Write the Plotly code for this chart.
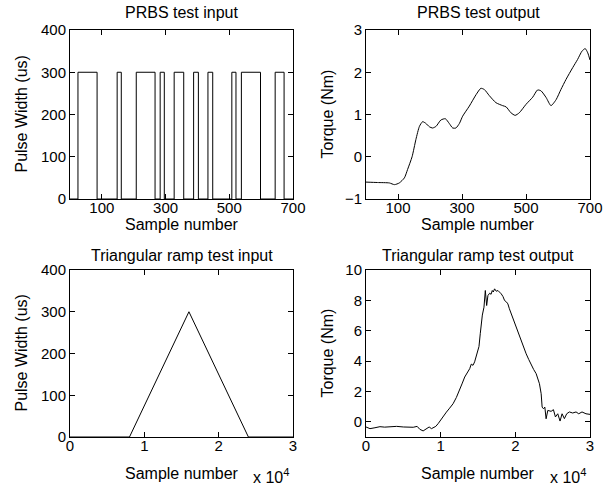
import plotly.graph_objects as go

# ---------------- data ----------------
# PRBS test input: rising / falling sample indices of the 300 us pulses
prbs_rise = [25, 148, 208, 283, 327, 388, 433, 508, 538, 644]
prbs_fall = [85, 161, 267, 296, 357, 403, 448, 521, 598, 672]
prbs_high = 300
prbs_len = 700

# PRBS test output (torque, Nm)
prbs_out_x = [0, 36, 73, 89, 104, 120, 130, 144, 156, 167, 177, 187, 198, 208, 219,
              234, 248, 260, 271, 281, 292, 302, 323, 344, 359, 370, 385, 406, 427,
              438, 453, 466, 479, 500, 521, 536, 547, 563, 578, 594, 609, 625, 646,
              661, 675, 685, 693, 700]
prbs_out_y = [-0.60, -0.61, -0.62, -0.66, -0.62, -0.50, -0.30, 0.00, 0.41, 0.72, 0.83,
              0.79, 0.71, 0.68, 0.72, 0.87, 0.90, 0.79, 0.68, 0.68, 0.79, 0.96, 1.20,
              1.47, 1.62, 1.59, 1.45, 1.28, 1.21, 1.18, 1.04, 0.98, 1.04, 1.24, 1.41,
              1.58, 1.56, 1.40, 1.21, 1.35, 1.59, 1.83, 2.11, 2.30, 2.50, 2.56, 2.46, 2.29]

# Triangular ramp test input
ramp_x = [0, 8000, 16000, 24000, 30000]
ramp_y = [0, 0, 300, 0, 0]

# Triangular ramp test output (torque, Nm)
ramp_out_x = [0, 534, 1200, 1870, 2500, 3200, 4100, 5000, 5600, 6320, 6850, 7200, 7650,
              8100, 8460, 8770, 9350, 9660, 10100, 10770, 11200, 11660, 12100, 12550,
              12900, 13220, 13600, 13890, 14100, 14330, 14550, 14910, 15130, 15310,
              15580, 15800, 15980, 16160, 16330, 16560, 16750, 16910, 17050, 17220,
              17450, 17670, 17900, 18110, 18350, 18560, 18800, 19000, 19200, 19450,
              19650, 19900, 20100, 20340, 20550, 20790, 21100, 21450, 21800, 22120,
              22450, 22790, 23000, 23230, 23460, 23590, 23770, 23950, 24120, 24350,
              24790, 25100, 25370, 25680, 25990, 26260, 26570, 26880, 27240, 27680,
              28130, 28490, 28930, 29460, 30000]
ramp_out_y = [-0.34, -0.45, -0.39, -0.32, -0.35, -0.32, -0.30, -0.34, -0.33, -0.36,
              -0.30, -0.49, -0.60, -0.47, -0.34, -0.45, -0.30, -0.12, 0.21, 0.64,
              0.90, 1.19, 1.60, 2.07, 2.55, 2.95, 3.30, 3.50, 3.80, 3.72, 3.95, 4.50,
              4.96, 5.83, 7.03, 7.55, 8.65, 7.66, 8.32, 8.47, 8.40, 8.65, 8.55, 8.76,
              8.60, 8.65, 8.55, 8.43, 8.25, 7.99, 7.90, 7.77, 7.45, 7.11, 6.90, 6.56,
              6.30, 6.02, 5.70, 5.36, 4.95, 4.48, 4.10, 3.72, 3.45, 3.17, 2.90, 2.51,
              1.85, 0.97, 0.86, 0.97, 0.20, 0.75, 0.69, 0.80, 0.32, 0.53, 0.05, 0.53,
              0.21, 0.53, 0.65, 0.58, 0.65, 0.53, 0.65, 0.53, 0.49]

titles = ["PRBS test input", "PRBS test output",
          "Triangular ramp test input", "Triangular ramp test output"]
ylabels = ["Pulse Width (us)", "Torque (Nm)", "Pulse Width (us)", "Torque (Nm)"]
xlabel = "Sample number"

# ---------------- build ----------------
FONT = "Liberation Sans, Arial, Helvetica, sans-serif"
W, H = 612, 488
LBL = 16
TCK = 15

# step signal from edges
px = [0]
py = [0]
for r, f in zip(prbs_rise, prbs_fall):
    px += [r, f]
    py += [prbs_high, 0]
px.append(prbs_len)
py.append(0)

fig = go.Figure()
line = dict(color="black", width=1)
fig.add_trace(go.Scatter(x=px, y=py, mode="lines", line=dict(color="black", width=1, shape="hv"),
                         xaxis="x", yaxis="y", showlegend=False))
fig.add_trace(go.Scatter(x=prbs_out_x, y=prbs_out_y, mode="lines",
                         line=dict(color="black", width=1, shape="spline", smoothing=0.6),
                         xaxis="x2", yaxis="y2", showlegend=False))
fig.add_trace(go.Scatter(x=ramp_x, y=ramp_y, mode="lines", line=line,
                         xaxis="x3", yaxis="y3", showlegend=False))
fig.add_trace(go.Scatter(x=ramp_out_x, y=ramp_out_y, mode="lines", line=line,
                         xaxis="x4", yaxis="y4", showlegend=False))

# panel pixel boxes: (left, right, top, bottom)
boxes = [(70, 293, 30, 199), (366, 590, 30, 199), (70, 293, 270, 437), (366, 590, 270, 437)]

def px2dom(b):
    l, r, t, bt = b
    return [l / W, r / W], [1 - bt / H, 1 - t / H]

axis_common = dict(showline=True, linecolor="black", linewidth=1, mirror="allticks",
                   ticks="inside", ticklen=5, tickcolor="black", tickwidth=1,
                   showgrid=False, zeroline=False, automargin=False,
                   tickfont=dict(family=FONT, size=TCK, color="black"))

xr = [[0, 700], [0, 700], [0, 30000], [0, 30000]]
yr = [[0, 400], [-1, 3], [0, 400], [-1, 10]]
xtv = [[100, 300, 500, 700], [100, 300, 500, 700], [0, 10000, 20000, 30000], [0, 10000, 20000, 30000]]
xtt = [["100", "300", "500", "700"], ["100", "300", "500", "700"], ["0", "1", "2", "3"], ["0", "1", "2", "3"]]
ytv = [[0, 100, 200, 300, 400], [-1, 0, 1, 2, 3], [0, 100, 200, 300, 400], [0, 2, 4, 6, 8, 10]]
ytt = [["0", "100", "200", "300", "400"], ["\u22121", "0", "1", "2", "3"],
       ["0", "100", "200", "300", "400"], ["0", "2", "4", "6", "8", "10"]]

annotations = []
for i, b in enumerate(boxes):
    xd, yd = px2dom(b)
    n = "" if i == 0 else str(i + 1)
    fig.layout["xaxis" + n] = dict(domain=xd, range=xr[i], anchor="y" + n,
                                   tickvals=xtv[i], ticktext=xtt[i], ticklabelstandoff=-5,
                                   **axis_common)
    fig.layout["yaxis" + n] = dict(domain=yd, range=yr[i], anchor="x" + n,
                                   tickvals=ytv[i], ticktext=ytt[i], **axis_common)
    l, r, t, bt = b
    cx = (l + r) / 2
    # title
    ty = 12 if t < 100 else 255
    annotations.append(dict(text=titles[i], x=cx / W, y=1 - ty / H, xref="paper", yref="paper",
                            xanchor="center", yanchor="middle", showarrow=False,
                            font=dict(family=FONT, size=LBL, color="black")))
    # x label
    off = 25 if i < 2 else 36
    annotations.append(dict(text=xlabel, x=cx / W, y=1 - (bt + off) / H, xref="paper", yref="paper",
                            xanchor="center", yanchor="middle", showarrow=False,
                            font=dict(family=FONT, size=LBL, color="black")))
    # y label
    ylx = 21 if l < 200 else 327
    annotations.append(dict(text=ylabels[i], x=ylx / W, y=1 - ((t + bt) / 2) / H, xref="paper", yref="paper",
                            xanchor="center", yanchor="middle", showarrow=False, textangle=-90,
                            font=dict(family=FONT, size=LBL, color="black")))
    if i >= 2:
        annotations.append(dict(text="x 10<sup>4</sup>", x=(r - 2) / W, y=1 - (bt + 39) / H,
                                xref="paper", yref="paper", xanchor="right", yanchor="middle",
                                showarrow=False, font=dict(family=FONT, size=LBL, color="black")))

fig.update_layout(width=W, height=H, margin=dict(l=0, r=0, t=0, b=0),
                  paper_bgcolor="white", plot_bgcolor="white",
                  annotations=annotations, showlegend=False, template="none",
                  font=dict(family=FONT, size=LBL, color="black"))

fig.write_html("out.html", config={"displayModeBar": False},
               post_script="document.body.style.margin='0';document.body.style.overflow='hidden';")
